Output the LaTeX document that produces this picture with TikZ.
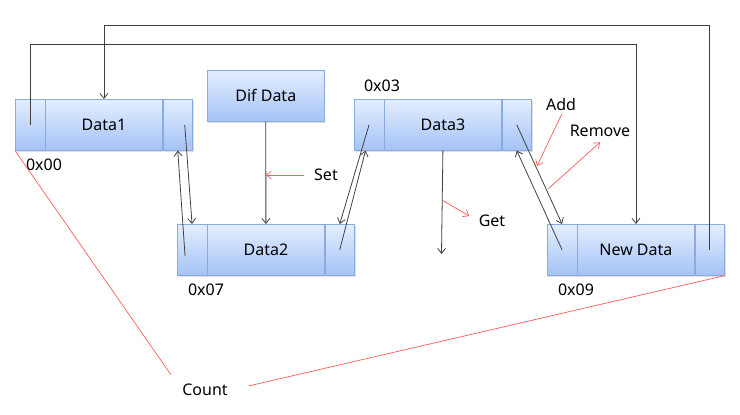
\documentclass[tikz,border=0pt]{standalone}
\usepackage{fontspec}
\setmainfont{Noto Sans}
\usetikzlibrary{positioning,shadows,arrows.meta}
\definecolor{boxtop}{HTML}{E4EEFF}
\definecolor{boxbot}{HTML}{A4C3F6}
\definecolor{boxline}{HTML}{8AABDD}
\definecolor{wire}{HTML}{404040}
\definecolor{hintred}{HTML}{FF5A5A}
\tikzset{
	cell/.style={draw=boxline, top color=boxtop, bottom color=boxbot, minimum height=51pt, inner sep=0pt, line width=0.6pt,
		drop shadow={shadow xshift=1pt, shadow yshift=-1.5pt, opacity=0.25}},
	endcell/.style={cell, minimum width=29.5pt},
	bodycell/.style={cell, minimum width=117pt},
	link/.style={draw=wire, line width=0.8pt, -{Straight Barb[length=5pt,width=8pt]}},
	hint/.style={draw=hintred, line width=0.7pt},
	hintarrow/.style={hint, -{Straight Barb[length=5pt,width=8pt]}}
}

\begin{document}
\begin{tikzpicture}[x=1pt, y=-1pt, font=\fontsize{16}{19}\selectfont]
	\useasboundingbox (0,0) rectangle (740,415);

	\node[endcell, anchor=north west] (d1l) at (15,99) {};
	\node[bodycell, right=0pt of d1l] (d1m) {Data1};
	\node[endcell, right=0pt of d1m] (d1r) {};

	\node[endcell, anchor=north west] (d2l) at (177,224) {};
	\node[bodycell, right=0pt of d2l] (d2m) {Data2};
	\node[endcell, right=0pt of d2m] (d2r) {};

	\node[endcell, anchor=north west] (d3l) at (354,99) {};
	\node[bodycell, right=0pt of d3l] (d3m) {Data3};
	\node[endcell, right=0pt of d3m] (d3r) {};

	\node[endcell, anchor=north west] (ndl) at (547,224) {};
	\node[bodycell, right=0pt of ndl] (ndm) {New Data};
	\node[endcell, right=0pt of ndm] (ndr) {};

	\node[bodycell, anchor=north west] (dif) at (207,70) {Dif Data};

	\node (a00) at (44,165) {0x00};
	\node (a03) at (382,86) {0x03};
	\node (a07) at (206,290) {0x07};
	\node (a09) at (576,290) {0x09};

	\node (set) at (326,175) {Set};
	\node (get) at (492,221) {Get};
	\node (add) at (561,104) {Add};
	\node (rem) at (600,131) {Remove};
	\node (count) at (205,390) {Count};

	\draw[link] ([xshift=7pt]d1r.center) -- (d2l.north);
	\draw[link] ([shift={(-7,6)}]d2l.center) -- (d1r.south);
	\draw[link] (d3l.center) -- (d2r.north);
	\draw[link] (d2r.center) -- ([xshift=-3.5pt]d3l.south);
	\draw[link] (d3r.center) -- (ndl.north);
	\draw[link] (ndl.center) -- (d3r.south);
	\draw[link] (dif.south) -- (d2m.north);
	\coordinate (getend) at (441.5,254);
	\draw[link] (d3m.south) -- (getend);
	\draw[link] (ndr.center) -- ++(0,-224) -| (d1m.north);
	\draw[link] (d1l.center) -- ++(0,-80) -| (ndm.north);

	\draw[hintarrow] ([xshift=-7pt]set.west) -- (set.west -| dif.south);
	\draw[hintarrow] ([yshift=-50pt]d3m.south) -- ([shift={(-6,-5)}]get.west);
	\coordinate (addend) at (537,166);
	\draw[hintarrow] ([xshift=1pt]add.south) -- (addend);
	\coordinate (remfrom) at (548,189);
	\draw[hintarrow] (remfrom) -- ([yshift=-2pt]rem.south);
	\draw[hint, shorten >=14pt] (d1l.south west) -- ([yshift=4pt]count.west);
	\draw[hint, shorten <=18pt] (count.east) -- (ndr.south east);
\end{tikzpicture}
\end{document}
